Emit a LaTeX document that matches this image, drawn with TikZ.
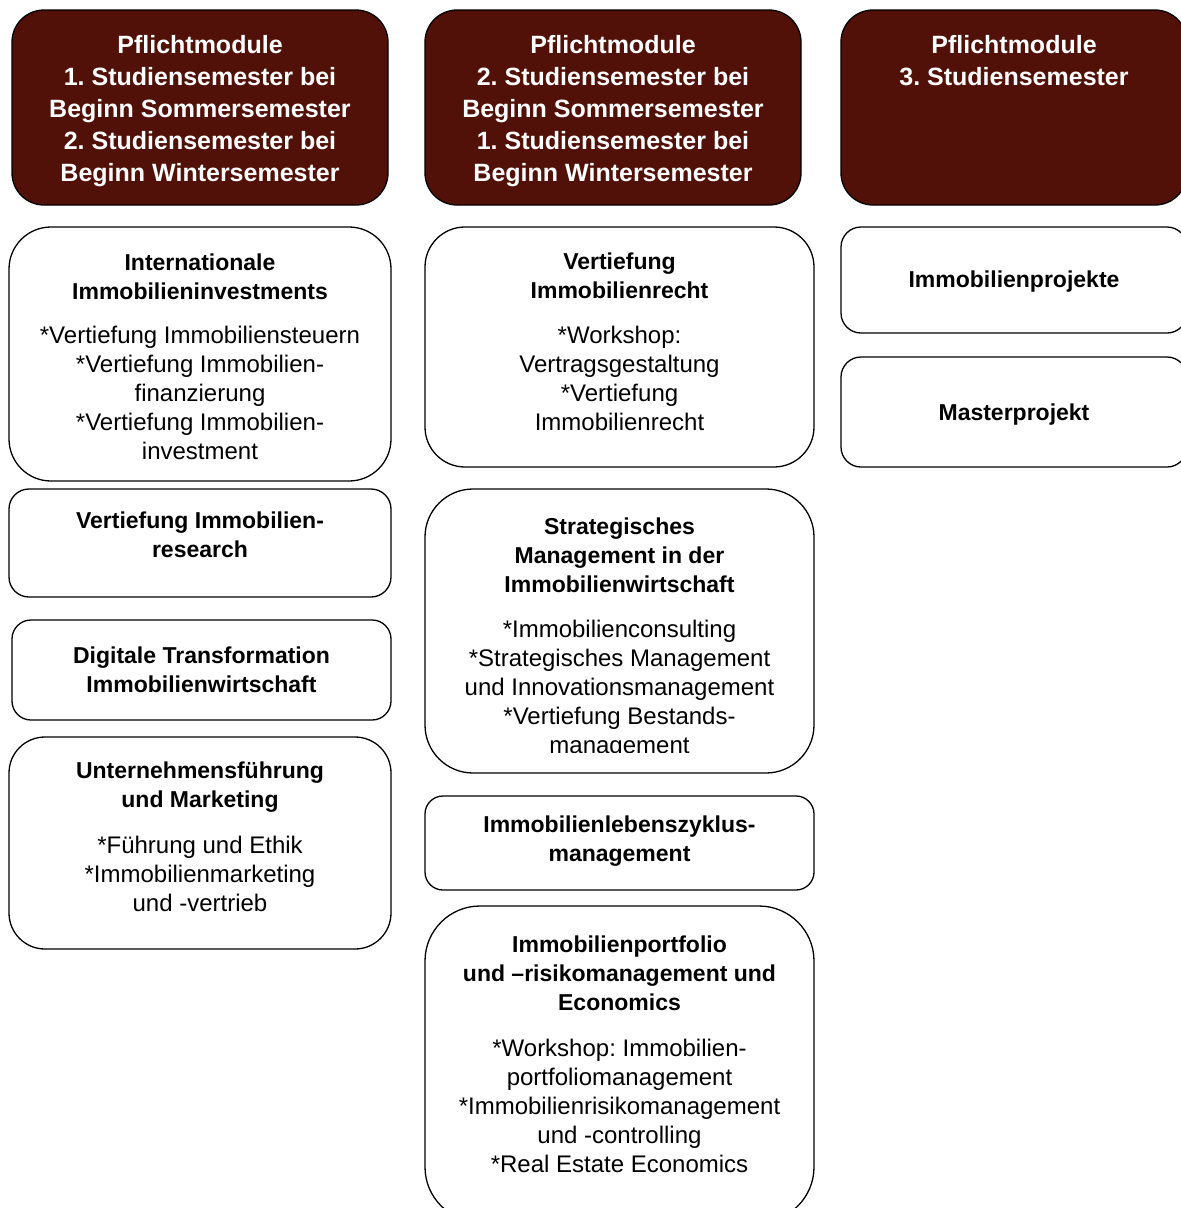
\documentclass[tikz,border=0pt]{standalone}
\usepackage{fontspec}
\setmainfont{Liberation Sans}
\definecolor{headred}{HTML}{521108}
\frenchspacing

\begin{document}
\begin{tikzpicture}[x=1pt, y=-1pt,
    headbox/.style  = {draw=black, fill=headred, line width=1.3pt, inner sep=0pt, rounded corners=32pt},
    modbox/.style   = {draw=black, line width=1.3pt, inner sep=0pt},
    headtext/.style = {text=white, font=\bfseries\fontsize{25}{32}\selectfont, align=center, anchor=north, inner sep=0pt},
    modtitle/.style = {font=\bfseries\fontsize{23}{28.7}\selectfont, align=center, anchor=north, inner sep=0pt},
    moditems/.style = {font=\fontsize{24}{29}\selectfont, align=center, anchor=north, inner sep=0pt}
  ]
    \clip (0,0) rectangle (1181,1208);

    %% ---- headers ----
    \node[headbox, minimum width=376pt, minimum height=195pt] (head1) at (200,107.5) {};
    \node[headbox, minimum width=376pt, minimum height=195pt] (head2) at (613,107.5) {};
    \node[headbox, minimum width=346pt, minimum height=195pt] (head3) at (1014,107.5) {};

    \node[headtext] (head1t) at (200,35) {Pflichtmodule\\1. Studiensemester bei\\Beginn Sommersemester\\2. Studiensemester bei\\Beginn Wintersemester};
    \node[headtext] (head2t) at (613,35) {Pflichtmodule\\2. Studiensemester bei\\Beginn Sommersemester\\1. Studiensemester bei\\Beginn Wintersemester};
    \node[headtext] (head3t) at (1014,35) {Pflichtmodule\\3. Studiensemester};

    %% ---- column 1 ----
    \node[modbox, minimum width=382pt, minimum height=254pt, rounded corners=42pt] (intinv) at (200,354) {};
    \node[modtitle] (intinvt) at (200,254) {Internationale\\Immobilieninvestments};
    \node[moditems] (intinvi) at (200,326) {*Vertiefung Immobiliensteuern\\*Vertiefung Immobilien-\\finanzierung\\*Vertiefung Immobilien-\\investment};

    \node[modbox, minimum width=382pt, minimum height=108pt, rounded corners=20pt] (research) at (200,543) {};
    \node[modtitle] (researcht) at (200,512) {Vertiefung Immobilien-\\research};

    \node[modbox, minimum width=379pt, minimum height=100pt, rounded corners=19pt] (digital) at (201.5,670) {};
    \node[modtitle] (digitalt) at (201.5,647) {Digitale Transformation\\Immobilienwirtschaft};

    \node[modbox, minimum width=382pt, minimum height=212pt, rounded corners=36pt] (fuehrung) at (200,843) {};
    \node[modtitle] (fuehrungt) at (200,762) {Unternehmensführung\\und Marketing};
    \node[moditems] (fuehrungi) at (200,836) {*Führung und Ethik\\*Immobilienmarketing\\und -vertrieb};

    %% ---- column 2 ----
    \node[modbox, minimum width=389pt, minimum height=240pt, rounded corners=40pt] (recht) at (619.5,347) {};
    \node[modtitle] (rechtt) at (619.5,253) {Vertiefung\\Immobilienrecht};
    \node[moditems] (rechti) at (619.5,326) {*Workshop:\\Vertragsgestaltung\\*Vertiefung\\Immobilienrecht};

    \node[modbox, minimum width=389pt, minimum height=284pt, rounded corners=48pt] (strat) at (619.5,631) {};
    \node[modtitle] (stratt) at (619.5,518) {Strategisches\\Management in der\\Immobilienwirtschaft};
    \begin{scope}
      \clip (425,489) rectangle (814,752); % last line is cut off
      \node[moditems] (strati) at (619.5,620) {*Immobilienconsulting\\*Strategisches Management\\und Innovationsmanagement\\*Vertiefung Bestands-\\management};
    \end{scope}

    \node[modbox, minimum width=389pt, minimum height=94pt, rounded corners=18pt] (zyklus) at (619.5,843) {};
    \node[modtitle] (zyklust) at (619.5,816) {Immobilienlebenszyklus-\\management};

    \node[modbox, minimum width=389pt, minimum height=316pt, rounded corners=55pt] (portf) at (619.5,1064) {};
    \node[modtitle] (portft) at (619.5,936) {Immobilienportfolio\\und –risikomanagement und\\Economics};
    \node[moditems] (portfi) at (619.5,1039) {*Workshop: Immobilien-\\portfoliomanagement\\*Immobilienrisikomanagement\\und -controlling\\*Real Estate Economics};

    %% ---- column 3 ----
    \node[modbox, minimum width=346pt, minimum height=106pt, rounded corners=20pt] (projekte) at (1014,280) {};
    \node[modtitle] (projektet) at (1014,271) {Immobilienprojekte};

    \node[modbox, minimum width=346pt, minimum height=110pt, rounded corners=20pt] (master) at (1014,412) {};
    \node[modtitle] (mastert) at (1014,404) {Masterprojekt};
  \end{tikzpicture}
\end{document}
